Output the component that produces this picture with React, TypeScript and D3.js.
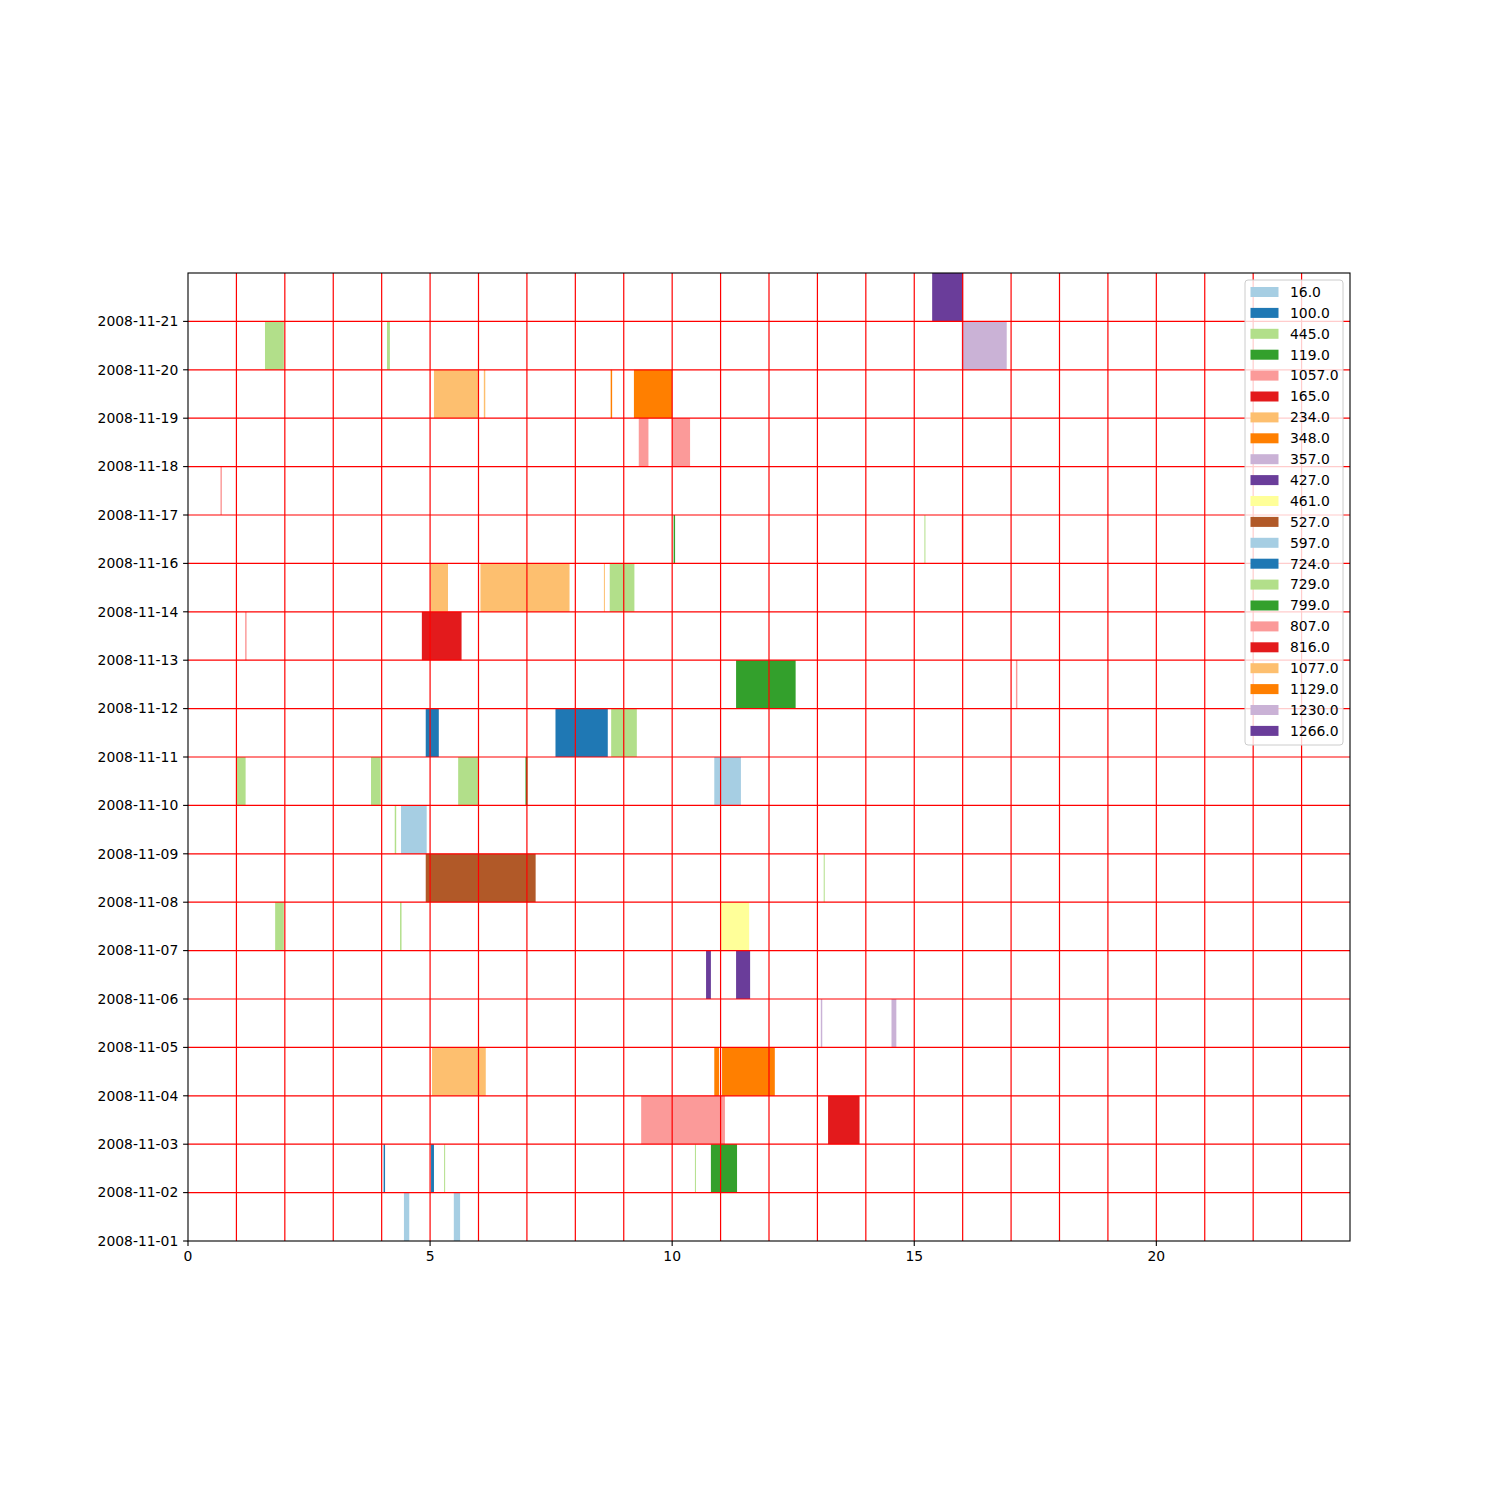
import React from 'react'
import * as d3 from 'd3'

// row labels (one per row, bottom to top; the top row has no tick label)
const dates = [
  '2008-11-01', '2008-11-02', '2008-11-03', '2008-11-04', '2008-11-05',
  '2008-11-06', '2008-11-07', '2008-11-08', '2008-11-09', '2008-11-10',
  '2008-11-11', '2008-11-12', '2008-11-13', '2008-11-14', '2008-11-16',
  '2008-11-17', '2008-11-18', '2008-11-19', '2008-11-20', '2008-11-21',
]

const seriesLabels = [
  '16.0', '100.0', '445.0', '119.0', '1057.0', '165.0', '234.0', '348.0',
  '357.0', '427.0', '461.0', '527.0', '597.0', '724.0', '729.0', '799.0',
  '807.0', '816.0', '1077.0', '1129.0', '1230.0', '1266.0',
]

const xTicks = [0, 5, 10, 15, 20]
const hours = d3.range(1, 24)

// [series index, row index, start hour, end hour]
const segments: [number, number, number, number][] = [
  [0, 0, 4.46, 4.57], [0, 0, 5.49, 5.62],
  [12, 8, 4.40, 4.93], [12, 9, 10.87, 11.42],
  [1, 1, 4.04, 4.07], [1, 1, 5.02, 5.08],
  [13, 10, 4.91, 5.18], [13, 10, 7.59, 8.67],
  [2, 1, 5.29, 5.31], [2, 1, 10.47, 10.49], [2, 6, 1.80, 1.98], [2, 6, 4.38, 4.41],
  [2, 7, 13.13, 13.15], [2, 8, 4.27, 4.30],
  [14, 9, 1.01, 1.19], [14, 9, 3.78, 3.98], [14, 9, 5.58, 5.99], [14, 10, 8.74, 9.27],
  [14, 13, 8.71, 9.22], [14, 14, 15.21, 15.23], [14, 18, 1.59, 1.98], [14, 18, 4.11, 4.17],
  [3, 1, 10.80, 11.34], [3, 9, 6.97, 7.01],
  [15, 11, 11.32, 12.55], [15, 14, 10.03, 10.06],
  [4, 2, 9.36, 11.09], [4, 15, 0.67, 0.70],
  [16, 11, 17.10, 17.13], [16, 12, 1.18, 1.21], [16, 14, 15.98, 16.01],
  [16, 16, 9.31, 9.51], [16, 16, 10.0, 10.37],
  [5, 2, 13.22, 13.87], [17, 12, 4.83, 5.65],
  [6, 3, 5.04, 6.15], [6, 17, 5.08, 6.0], [6, 17, 6.11, 6.14],
  [18, 13, 5.01, 5.37], [18, 13, 6.04, 7.88], [18, 13, 8.59, 8.61],
  [7, 3, 10.87, 10.97], [7, 17, 8.73, 8.76],
  [19, 3, 11.03, 12.12], [19, 17, 9.21, 10.0],
  [8, 4, 13.07, 13.10], [8, 4, 14.53, 14.63], [20, 18, 15.98, 16.91],
  [9, 5, 10.70, 10.80], [9, 5, 11.32, 11.61], [21, 19, 15.37, 16.01],
  [10, 6, 11.01, 11.59],
  [11, 7, 4.91, 7.18],
]

const W = 1500
const H = 1500
const left = 188
const right = 1350
const top = 273
const bottom = 1241
const font = 'DejaVu Sans, sans-serif'
const fs = 13.9

const App = () => {
  const x = d3.scaleLinear().domain([0, 24]).range([left, right])
  const y = d3.scaleLinear().domain([0, 20]).range([bottom, top])
  const color = (i: number) => d3.schemePaired[i % 12]

  const legX = 1245
  const legY = 280
  const legW = 98
  const rowH = 20.9

  return (
    <svg width={W} height={H} style={{ position: 'absolute', left: 0, top: 0, background: '#fff' }}>
      <rect x={0} y={0} width={W} height={H} fill="#fff" />
      {/* bars */}
      {segments.map(([s, r, a, b], i) => (
        <rect key={i} x={x(a)} y={y(r + 1)} width={Math.max(1, x(b) - x(a))}
          height={y(r) - y(r + 1)} fill={color(s)} />
      ))}
      {/* red grid over the bars */}
      {hours.map(h => (
        <line key={'v' + h} x1={x(h)} x2={x(h)} y1={top} y2={bottom} stroke="red" strokeWidth={1.2} />
      ))}
      {dates.map((d, i) => i > 0 && (
        <line key={'h' + i} x1={left} x2={right} y1={y(i)} y2={y(i)} stroke="red" strokeWidth={1.2} />
      ))}
      {/* spines */}
      <rect x={left} y={top} width={right - left} height={bottom - top} fill="none" stroke="#000" strokeWidth={1.1} />
      {/* y ticks */}
      {dates.map((d, i) => (
        <g key={'yt' + i} transform={`translate(0,${y(i)})`}>
          <line x1={left - 4.9} x2={left} stroke="#000" strokeWidth={1.1} />
          <text x={left - 9.7} dy="0.35em" textAnchor="end" fontFamily={font} fontSize={fs}>{d}</text>
        </g>
      ))}
      {/* x ticks */}
      {xTicks.map(t => (
        <g key={'xt' + t} transform={`translate(${x(t)},0)`}>
          <line y1={bottom} y2={bottom + 4.9} stroke="#000" strokeWidth={1.1} />
          <text y={bottom + 9.7} dy="0.76em" textAnchor="middle" fontFamily={font} fontSize={fs}>{t}</text>
        </g>
      ))}
      {/* legend */}
      <rect x={legX} y={legY} width={legW} height={465} rx={3} fill="#fff" fillOpacity={0.8} stroke="#ccc" strokeWidth={1} />
      {seriesLabels.map((l, i) => {
        const cy = 292 + i * rowH
        return (
          <g key={'lg' + i}>
            <rect x={1250.5} y={cy - 5} width={28} height={10} fill={color(i)} />
            <text x={1290} y={cy} dy="0.35em" fontFamily={font} fontSize={fs}>{l}</text>
          </g>
        )
      })}
    </svg>
  )
}

export default App
